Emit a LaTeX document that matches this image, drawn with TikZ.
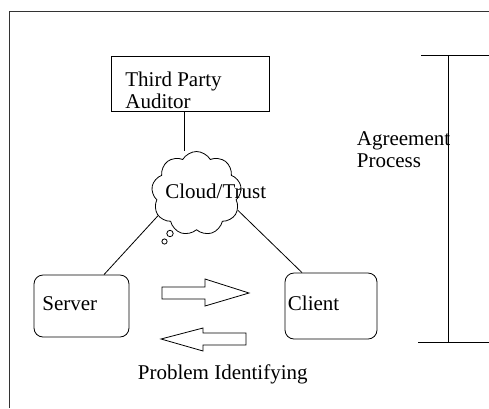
\documentclass[tikz,border=0pt]{standalone}
\usepackage{fontspec}
\setmainfont{Liberation Serif}
\usetikzlibrary{shapes.symbols}
\begin{document}
\begin{tikzpicture}[x=1pt,y=-1pt,
  line width=0.8pt,
  txt/.style={inner sep=0pt,anchor=west,align=left,font=\fontsize{21}{22}\selectfont},
  boxr/.style={draw,rounded corners=9pt,inner sep=0pt},
  boxs/.style={draw,inner sep=0pt}]
\useasboundingbox[fill=white] (0,0) rectangle (489,408);
% outer frame (partly visible)
\draw[line width=1pt,black!80] (9,408) -- (9,11) -- (489,11);
% third party auditor
\node[boxs,minimum width=158pt,minimum height=55pt] (tpa) at (190,83.5) {};
\node[txt] (tpat) at (125,90.5) {Third Party\\Auditor};
% cloud
\node[cloud,draw,cloud puffs=9,cloud puff arc=120,aspect=1.05,minimum width=90pt,minimum height=84pt,inner sep=0pt] (cl) at (196.5,193.5) {};
\node[txt] (clt) at (165,191) {Cloud/Trust};
\draw (170,233.5) circle[radius=3.2pt];
\draw (164.5,241.5) circle[radius=2.6pt];
% server and client
\node[boxr,minimum width=95pt,minimum height=62pt] (srv) at (81.5,306) {};
\node[txt] (srvt) at (42,304) {Server};
\node[boxr,minimum width=92pt,minimum height=66pt] (cli) at (331,306) {};
\node[txt] (clit) at (287.5,303) {Client};
% connectors
\draw ([xshift=-6pt]tpa.south) -- ([xshift=-6pt]tpa.south |- cl.north);
\draw (cl.210) -- ([xshift=22.5pt]srv.north);
\draw (cl.338) -- ([xshift=-29pt]cli.north);
% arrows
\draw (162,287) -- (205,287) -- (205,279) -- (249,293) -- (205,306) -- (205,299) -- (162,299) -- cycle;
\draw (246,333) -- (203,333) -- (203,328) -- (161,339) -- (203,351) -- (203,345) -- (246,345) -- cycle;
\node[txt] (pi) at (137.5,374) {Problem Identifying};
% agreement bracket
\draw (421,55) -- (489,55);
\draw (448,55) -- (448,342);
\draw (418,342) -- (489,342);
\node[txt] (ap) at (356.5,150) {Agreement\\Process};
\end{tikzpicture}
\end{document}
